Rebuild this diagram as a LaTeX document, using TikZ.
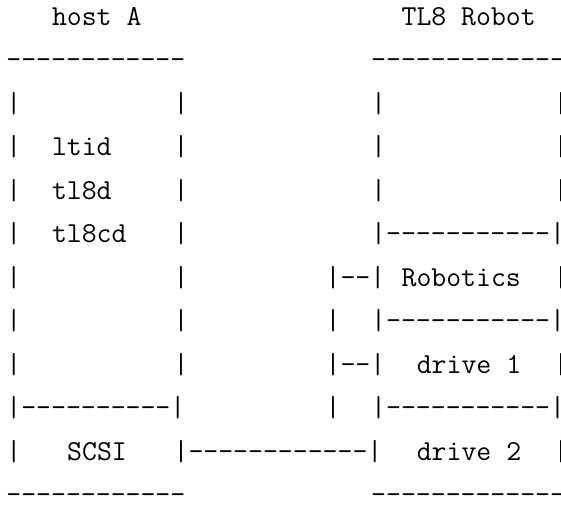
\documentclass[tikz,border=0pt]{standalone}
\usepackage{fontspec}
\setmonofont{Latin Modern Mono}
\newcommand\cw{15.2pt}
\newcommand\rh{43.5pt}
\tikzset{asc/.style={font=\ttfamily\fontsize{28.95}{30}\selectfont, anchor=base west, inner sep=0pt, outer sep=0pt, text=black}}
\newcommand\seg[4]{\node[asc] (#4) at (#2*\cw, -#1*\rh) {#3};}
\begin{document}
\begin{tikzpicture}
\useasboundingbox (-6.4pt,25pt) rectangle (554.6pt,-479pt);
% row 0
\seg{0}{3}{host A}{hostA}
\seg{0}{26}{TL8 Robot}{robot}
% row 1
\seg{1}{0}{------------}{hAtop}
\seg{1}{24}{-------------}{rbtop}
% row 2
\seg{2}{0}{|}{a2l}
\seg{2}{11}{|}{a2r}
\seg{2}{24}{|}{b2l}
\seg{2}{36}{|}{b2r}
% row 3
\seg{3}{0}{|}{a3l}
\seg{3}{3}{ltid}{ltid}
\seg{3}{11}{|}{a3r}
\seg{3}{24}{|}{b3l}
\seg{3}{36}{|}{b3r}
% row 4
\seg{4}{0}{|}{a4l}
\seg{4}{3}{tl8d}{tleightd}
\seg{4}{11}{|}{a4r}
\seg{4}{24}{|}{b4l}
\seg{4}{36}{|}{b4r}
% row 5
\seg{5}{0}{|}{a5l}
\seg{5}{3}{tl8cd}{tleightcd}
\seg{5}{11}{|}{a5r}
\seg{5}{24}{|-----------|}{b5}
% row 6
\seg{6}{0}{|}{a6l}
\seg{6}{11}{|}{a6r}
\seg{6}{21}{|--|}{c6}
\seg{6}{26}{Robotics}{robotics}
\seg{6}{36}{|}{b6r}
% row 7
\seg{7}{0}{|}{a7l}
\seg{7}{11}{|}{a7r}
\seg{7}{21}{|}{c7}
\seg{7}{24}{|-----------|}{b7}
% row 8
\seg{8}{0}{|}{a8l}
\seg{8}{11}{|}{a8r}
\seg{8}{21}{|--|}{c8}
\seg{8}{27}{drive 1}{driveone}
\seg{8}{36}{|}{b8r}
% row 9
\seg{9}{0}{|----------|}{a9}
\seg{9}{21}{|}{c9}
\seg{9}{24}{|-----------|}{b9}
% row 10
\seg{10}{0}{|}{a10l}
\seg{10}{4}{SCSI}{scsi}
\seg{10}{11}{|------------|}{link}
\seg{10}{27}{drive 2}{drivetwo}
\seg{10}{36}{|}{b10r}
% row 11
\seg{11}{0}{------------}{hAbot}
\seg{11}{24}{-------------}{rbbot}
\end{tikzpicture}
\end{document}
